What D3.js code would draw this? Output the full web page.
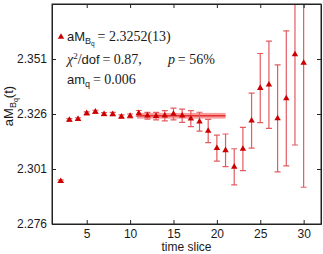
<!DOCTYPE html>
<html>
<head>
<meta charset="utf-8">
<style>
body { margin: 0; background: #fff; }
text { fill: #1a1a1a; }
.tick text { font: 12px "Liberation Sans", Arial, sans-serif; }
.sans { font-family: "Liberation Sans", Arial, sans-serif; }
.math { font-family: "Liberation Serif", "DejaVu Serif", serif; }
</style>
</head>
<body>
<script src="https://cdn.jsdelivr.net/npm/d3@7"></script>
<script>

var times = [2, 3, 4, 5, 6, 7, 8, 9, 10, 11, 12, 13, 14, 15, 16, 17, 18, 19, 20, 21, 22, 23, 24, 25, 26, 27, 28, 29, 30];
var values = [2.2955, 2.3233, 2.3237, 2.3263, 2.3270, 2.3259, 2.3259, 2.3248, 2.3251, 2.3263,
              2.3252, 2.3250, 2.3252, 2.3260, 2.3252, 2.3239, 2.3225, 2.3183, 2.3105, 2.3095,
              2.3020, 2.3101, 2.3230, 2.3378, 2.3393, 2.3240, 2.3331, 2.3531, 2.3492];
var errors = [0.0006, 0.0006, 0.0006, 0.0007, 0.0007, 0.0007, 0.0008, 0.0008, 0.0009, 0.0013,
              0.0015, 0.0017, 0.0023, 0.0027, 0.0030, 0.0036, 0.0043, 0.0053, 0.0059, 0.0074,
              0.0082, 0.0098, 0.0125, 0.0157, 0.0198, 0.0243, 0.0307, 0.0412, 0.0565];

var fitRange = [10.8, 21];
var fitValue = 2.3252, fitError = 0.0013;

var yTicks = [2.276, 2.301, 2.326, 2.351];
var xTicks = [5, 10, 15, 20, 25, 30];

var width = 323, height = 254;
var pLeft = 52, pRight = 321, pTop = 4, pBottom = 224;

var svg = d3.select("body").append("svg")
    .attr("width", width)
    .attr("height", height);

var x = d3.scaleLinear().domain([1, 32]).range([pLeft, pRight]);
var y = d3.scaleLinear().domain([2.276, 2.376]).range([pBottom, pTop]);

svg.append("clipPath").attr("id", "clip")
  .append("rect")
    .attr("x", pLeft).attr("y", pTop)
    .attr("width", pRight - pLeft).attr("height", pBottom - pTop);

var plot = svg.append("g").attr("clip-path", "url(#clip)");

// fit band
plot.append("rect")
    .attr("x", x(fitRange[0]))
    .attr("width", x(fitRange[1]) - x(fitRange[0]))
    .attr("y", y(fitValue + fitError))
    .attr("height", y(fitValue - fitError) - y(fitValue + fitError))
    .style("fill", "#f04848")
    .style("opacity", 0.55);
plot.append("line")
    .attr("x1", x(fitRange[0])).attr("x2", x(fitRange[1]))
    .attr("y1", y(fitValue)).attr("y2", y(fitValue))
    .style("stroke", "#e01818")
    .style("stroke-width", 1.5)
    .style("opacity", 0.8);

var pts = times.map(function(t, i) { return {t: t, v: values[i], e: errors[i]}; });

// error bars
var bars = plot.append("g")
    .style("stroke", "#e25c62")
    .style("stroke-width", 1.2)
    .style("fill", "none");

bars.selectAll("path")
    .data(pts)
    .enter().append("path")
    .attr("d", function(d) {
        var cx = x(d.t), y1 = y(d.v + d.e), y2 = y(d.v - d.e), w = 3;
        return "M" + (cx - w) + "," + y1 + "H" + (cx + w) +
               "M" + cx + "," + y1 + "V" + y2 +
               "M" + (cx - w) + "," + y2 + "H" + (cx + w);
    });

// markers
var tri = d3.symbol().type(d3.symbolTriangle).size(18);
plot.selectAll(".pt")
    .data(pts)
    .enter().append("path")
    .attr("class", "pt")
    .attr("d", tri)
    .attr("transform", function(d) { return "translate(" + x(d.t) + "," + y(d.v) + ")"; })
    .style("fill", "#cc0000");

// axes, ticks pointing inward, mirrored on top and right
svg.append("g")
    .attr("transform", "translate(0," + pBottom + ")")
    .call(d3.axisBottom(x).tickValues(xTicks).tickSizeInner(-4).tickSizeOuter(0).tickPadding(5));
svg.append("g")
    .attr("transform", "translate(0," + pTop + ")")
    .call(d3.axisTop(x).tickValues(xTicks).tickSizeInner(-4).tickSizeOuter(0).tickFormat(""));
svg.append("g")
    .attr("transform", "translate(" + pLeft + ",0)")
    .call(d3.axisLeft(y).tickValues(yTicks).tickSizeInner(-4).tickSizeOuter(0).tickPadding(5).tickFormat(d3.format(".3f")));
svg.append("g")
    .attr("transform", "translate(" + pRight + ",0)")
    .call(d3.axisRight(y).tickValues(yTicks).tickSizeInner(-4).tickSizeOuter(0).tickFormat(""));

svg.selectAll(".domain").style("stroke", "#222");
svg.selectAll(".tick line").style("stroke", "#222");

// frame
svg.append("rect")
    .attr("x", pLeft).attr("y", pTop)
    .attr("width", pRight - pLeft).attr("height", pBottom - pTop)
    .style("fill", "none").style("stroke", "#222").style("stroke-width", 1);

// axis labels
svg.append("text")
    .attr("class", "sans")
    .attr("x", (pLeft + pRight) / 2)
    .attr("y", 251)
    .attr("text-anchor", "middle")
    .style("font-size", "12px")
    .text("time slice");

var yl = svg.append("text")
    .attr("class", "sans")
    .attr("transform", "translate(13,106) rotate(-90)")
    .attr("text-anchor", "middle")
    .style("font-size", "13px");
yl.append("tspan").text("aM");
yl.append("tspan").attr("dy", 3).style("font-size", "9px").text("B");
yl.append("tspan").attr("dy", 2).style("font-size", "7px").text("q");
yl.append("tspan").attr("dy", -5).text("(t)");

// legend
svg.append("path")
    .attr("d", tri)
    .attr("transform", "translate(61,37)")
    .style("fill", "#cc0000");

var lx = 67;
var l1 = svg.append("text").attr("x", lx).attr("y", 41).style("font-size", "14px");
l1.append("tspan").attr("class", "sans").style("font-size", "13px").text("aM");
l1.append("tspan").attr("class", "sans").attr("dy", 3).style("font-size", "9px").text("B");
l1.append("tspan").attr("class", "sans").attr("dy", 2).style("font-size", "6.5px").text("q");
l1.append("tspan").attr("class", "math").attr("dy", -5).text("\u2009= 2.3252(13)");

var l2 = svg.append("text").attr("x", lx).attr("y", 64).style("font-size", "14px");
l2.append("tspan").attr("class", "math").style("font-style", "italic").text("\u03c7");
l2.append("tspan").attr("class", "math").attr("dy", -5).style("font-size", "9px").text("2");
l2.append("tspan").attr("class", "math").attr("dy", 5).text("/");
l2.append("tspan").attr("class", "sans").style("font-size", "13px").text("dof");
l2.append("tspan").attr("class", "math").text("\u2009= 0.87,");
l2.append("tspan").attr("class", "math").attr("x", 168).style("font-style", "italic").text("p");
l2.append("tspan").attr("class", "math").text("\u2009= 56%");

var l3 = svg.append("text").attr("x", lx).attr("y", 84).style("font-size", "14px");
l3.append("tspan").attr("class", "sans").style("font-size", "13px").text("am");
l3.append("tspan").attr("class", "sans").attr("dy", 3).style("font-size", "9px").text("q");
l3.append("tspan").attr("class", "math").attr("dy", -3).text("\u2009= 0.006");

</script>
</body>
</html>
